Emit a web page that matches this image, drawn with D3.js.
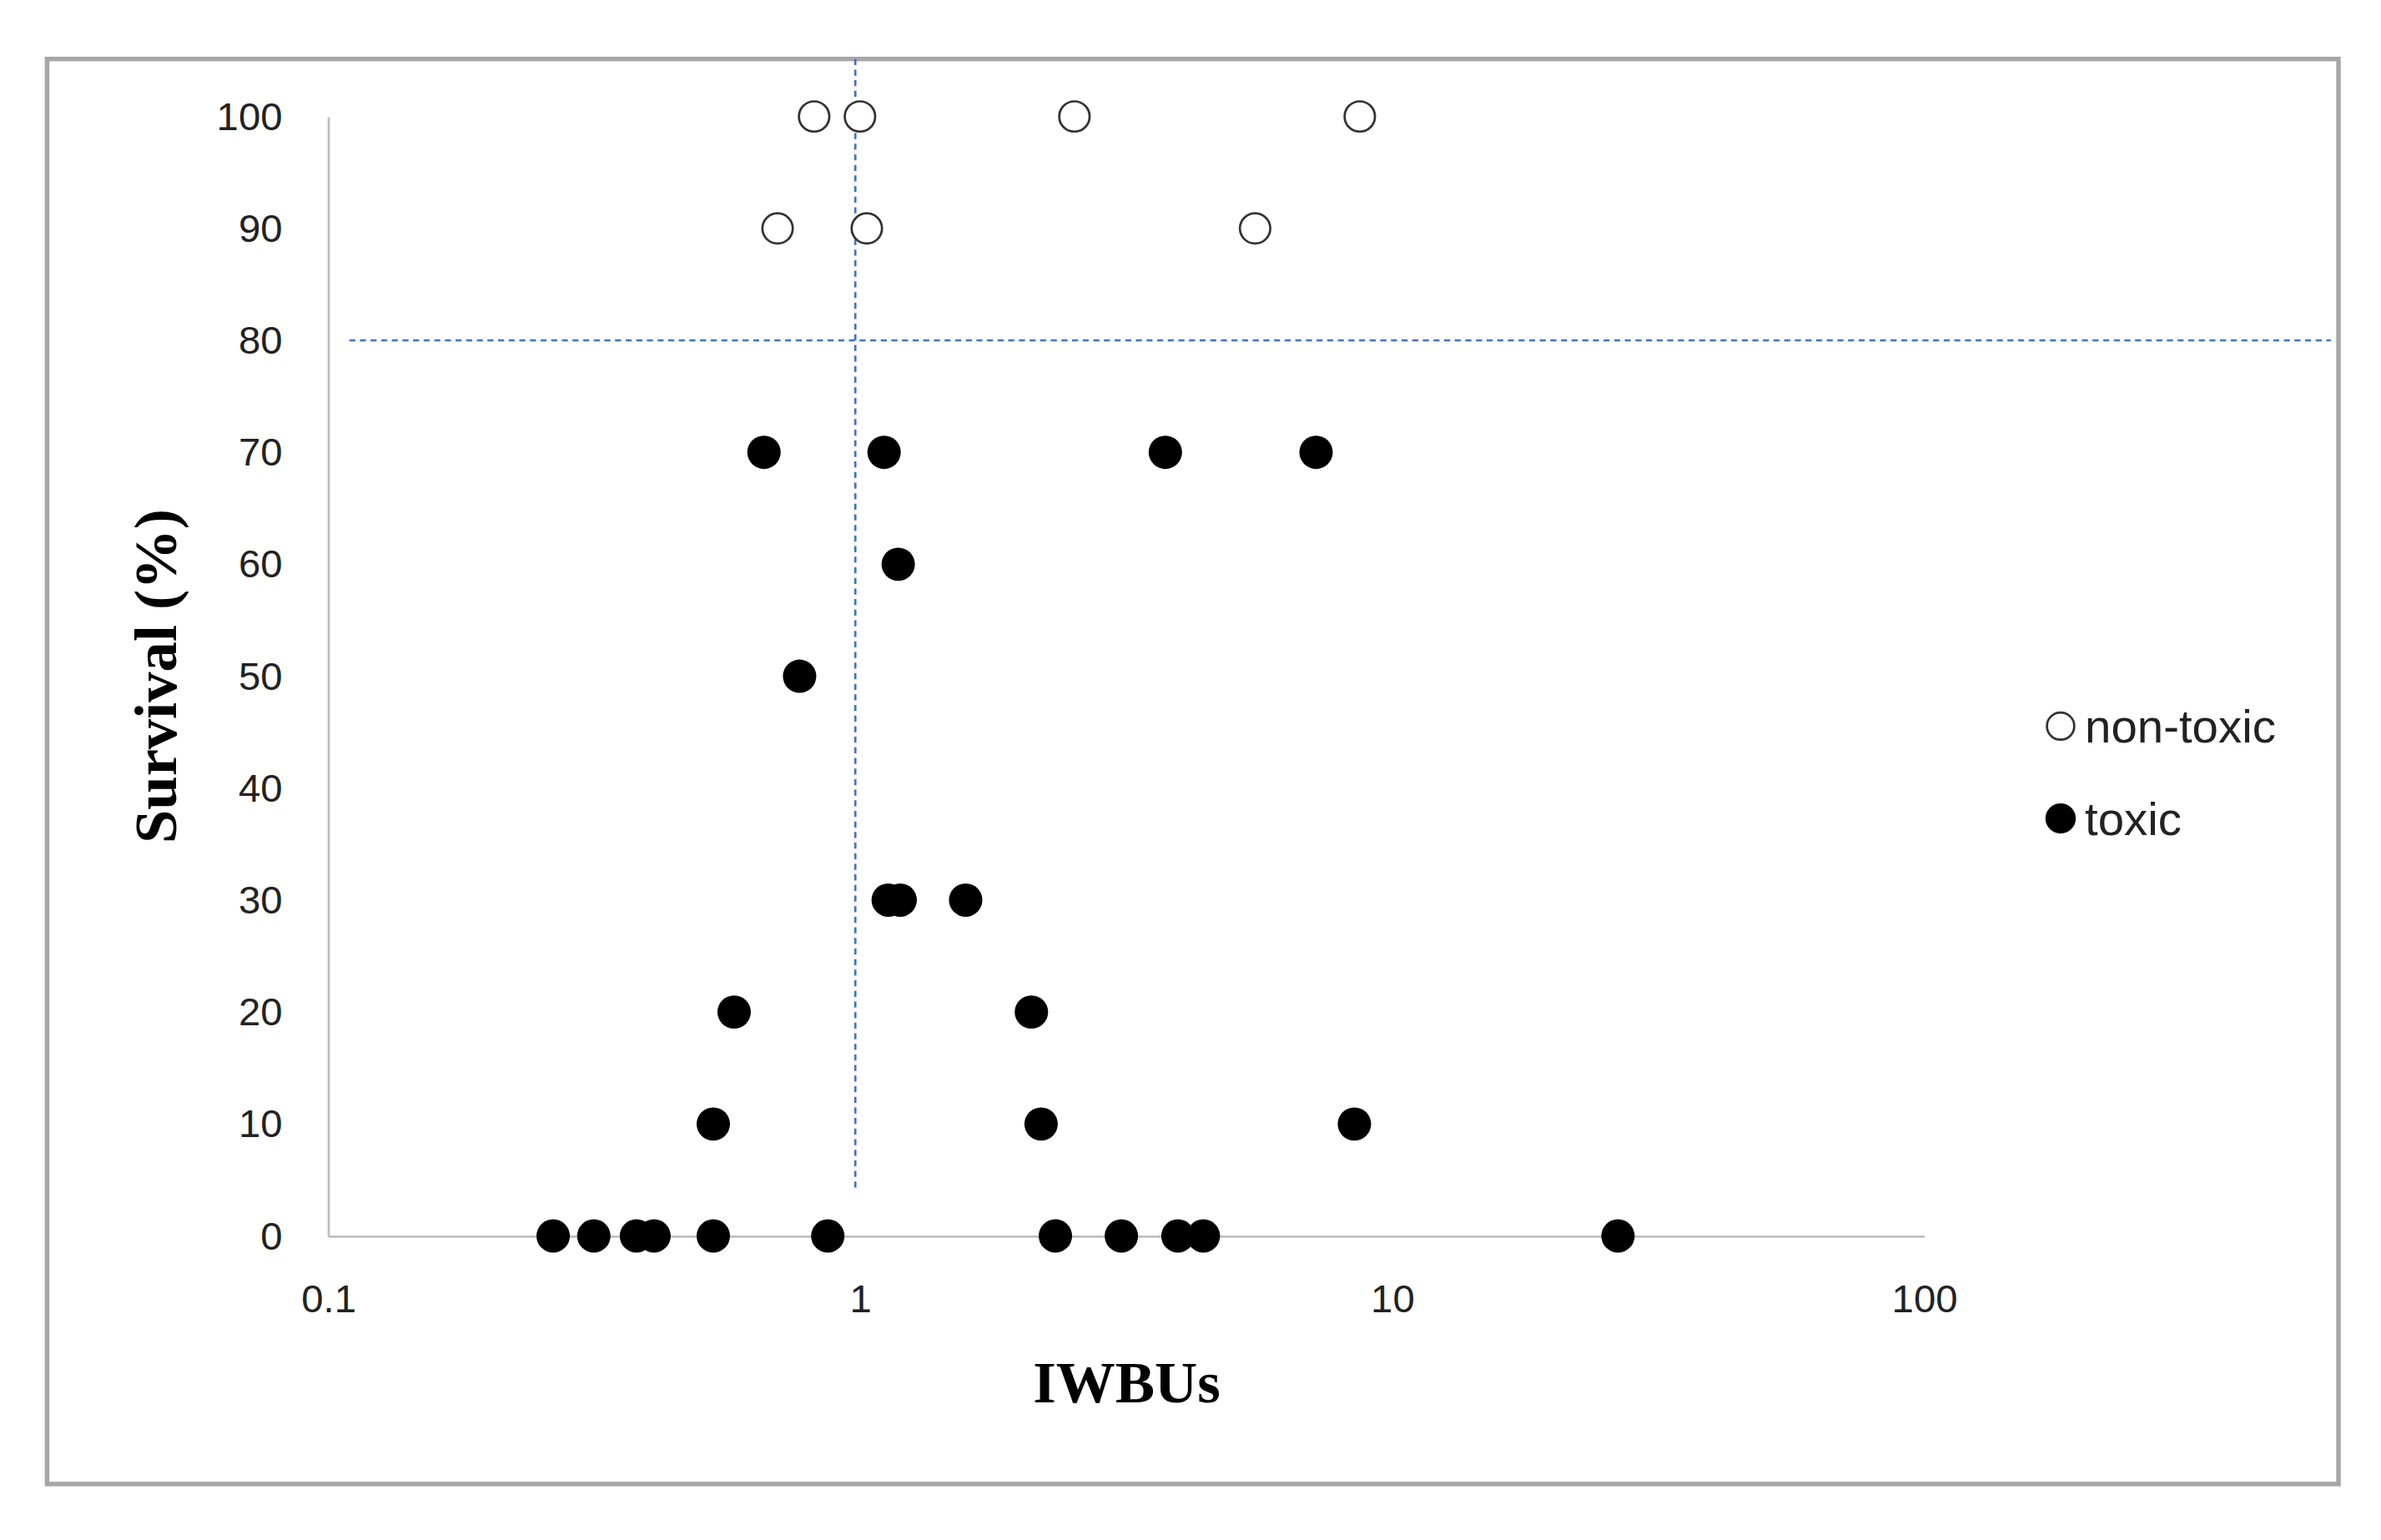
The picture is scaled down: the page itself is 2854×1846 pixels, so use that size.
<!DOCTYPE html>
<html><head><meta charset="utf-8">
<script src="https://cdn.jsdelivr.net/npm/d3@7"></script>
<style>html,body{margin:0;padding:0;background:#fff;overflow:hidden}</style>
</head><body>
<script>
const yTicks=[0,10,20,30,40,50,60,70,80,90,100];
const xTicks=[0.1,1,10,100];
const nonToxicX=[0.82,1.0,2.53,8.7,0.70,1.03,5.53];
const nonToxicY=[100,100,100,100,90,90,90];
const toxicX=[0.66,1.11,3.75,7.2,1.18,0.77,1.13,1.19,1.58,0.58,2.10,0.53,2.19,8.5,0.265,0.316,0.38,0.41,0.53,0.87,2.33,3.10,3.96,4.42,26.6];
const toxicY=[70,70,70,70,60,50,30,30,30,20,20,10,10,10,0,0,0,0,0,0,0,0,0,0,0];
const thresholdX=0.98, thresholdY=80;

const svg=d3.select("body").append("svg").attr("width",2854).attr("height",1846)
 .attr("viewBox","0 0 1568 1018").attr("preserveAspectRatio","none");
svg.append("rect").attr("x",31).attr("y",39).attr("width",1509).attr("height",942)
 .attr("fill","none").attr("stroke","#a6a6a6").attr("stroke-width",3);
const x=d3.scaleLog().domain([0.1,100]).range([216,1267]);
const y=d3.scaleLinear().domain([0,100]).range([817,77]);
const lab="'Liberation Sans', Arial, sans-serif";
const g=svg.append("g");
const ya=g.append("g").attr("transform","translate(216,0)")
 .call(d3.axisLeft(y).tickValues(yTicks).tickSize(0).tickPadding(30));
ya.select(".domain").attr("stroke","#bfbfbf").attr("stroke-width",1.5);
ya.selectAll("text").attr("font-family",lab).attr("font-size",26).attr("fill","#222");
const xa=g.append("g").attr("transform","translate(0,817)")
 .call(d3.axisBottom(x).tickValues(xTicks).tickFormat(d=>String(d)).tickSize(0).tickPadding(32));
xa.select(".domain").attr("stroke","#bfbfbf").attr("stroke-width",1.5);
xa.selectAll("text").attr("font-family",lab).attr("font-size",26).attr("fill","#222");
g.append("line").attr("x1",x(thresholdX)).attr("x2",x(thresholdX)).attr("y1",39).attr("y2",785)
 .attr("stroke","#4472c4").attr("stroke-width",1.5).attr("stroke-dasharray","4,3");
g.append("line").attr("x1",230).attr("x2",1535).attr("y1",y(thresholdY)).attr("y2",y(thresholdY))
 .attr("stroke","#4472c4").attr("stroke-width",1.5).attr("stroke-dasharray","4,3");
g.selectAll(".nt").data(nonToxicX).enter().append("circle")
 .attr("cx",d=>x(d)).attr("cy",(d,i)=>y(nonToxicY[i])).attr("r",10)
 .attr("fill","#fff").attr("stroke","#333").attr("stroke-width",1.5);
g.selectAll(".t").data(toxicX).enter().append("circle")
 .attr("cx",d=>x(d)).attr("cy",(d,i)=>y(toxicY[i])).attr("r",11).attr("fill","#000");
const serif="'Liberation Serif','Times New Roman',serif";
svg.append("text").attr("x",742).attr("y",927).attr("text-anchor","middle")
 .attr("font-family",serif).attr("font-weight","bold").attr("font-size",39).text("IWBUs");
svg.append("text").attr("transform","translate(116,447) rotate(-90)").attr("text-anchor","middle")
 .attr("font-family",serif).attr("font-weight","bold").attr("font-size",40).text("Survival (%)");
svg.append("circle").attr("cx",1357).attr("cy",480).attr("r",9).attr("fill","#fff").attr("stroke","#333").attr("stroke-width",1.5);
svg.append("text").attr("x",1373).attr("y",491).attr("font-family",lab).attr("font-size",31).attr("fill","#222").text("non-toxic");
svg.append("circle").attr("cx",1357).attr("cy",541).attr("r",10).attr("fill","#000");
svg.append("text").attr("x",1373).attr("y",552).attr("font-family",lab).attr("font-size",31).attr("fill","#222").text("toxic");
</script>
</body></html>
